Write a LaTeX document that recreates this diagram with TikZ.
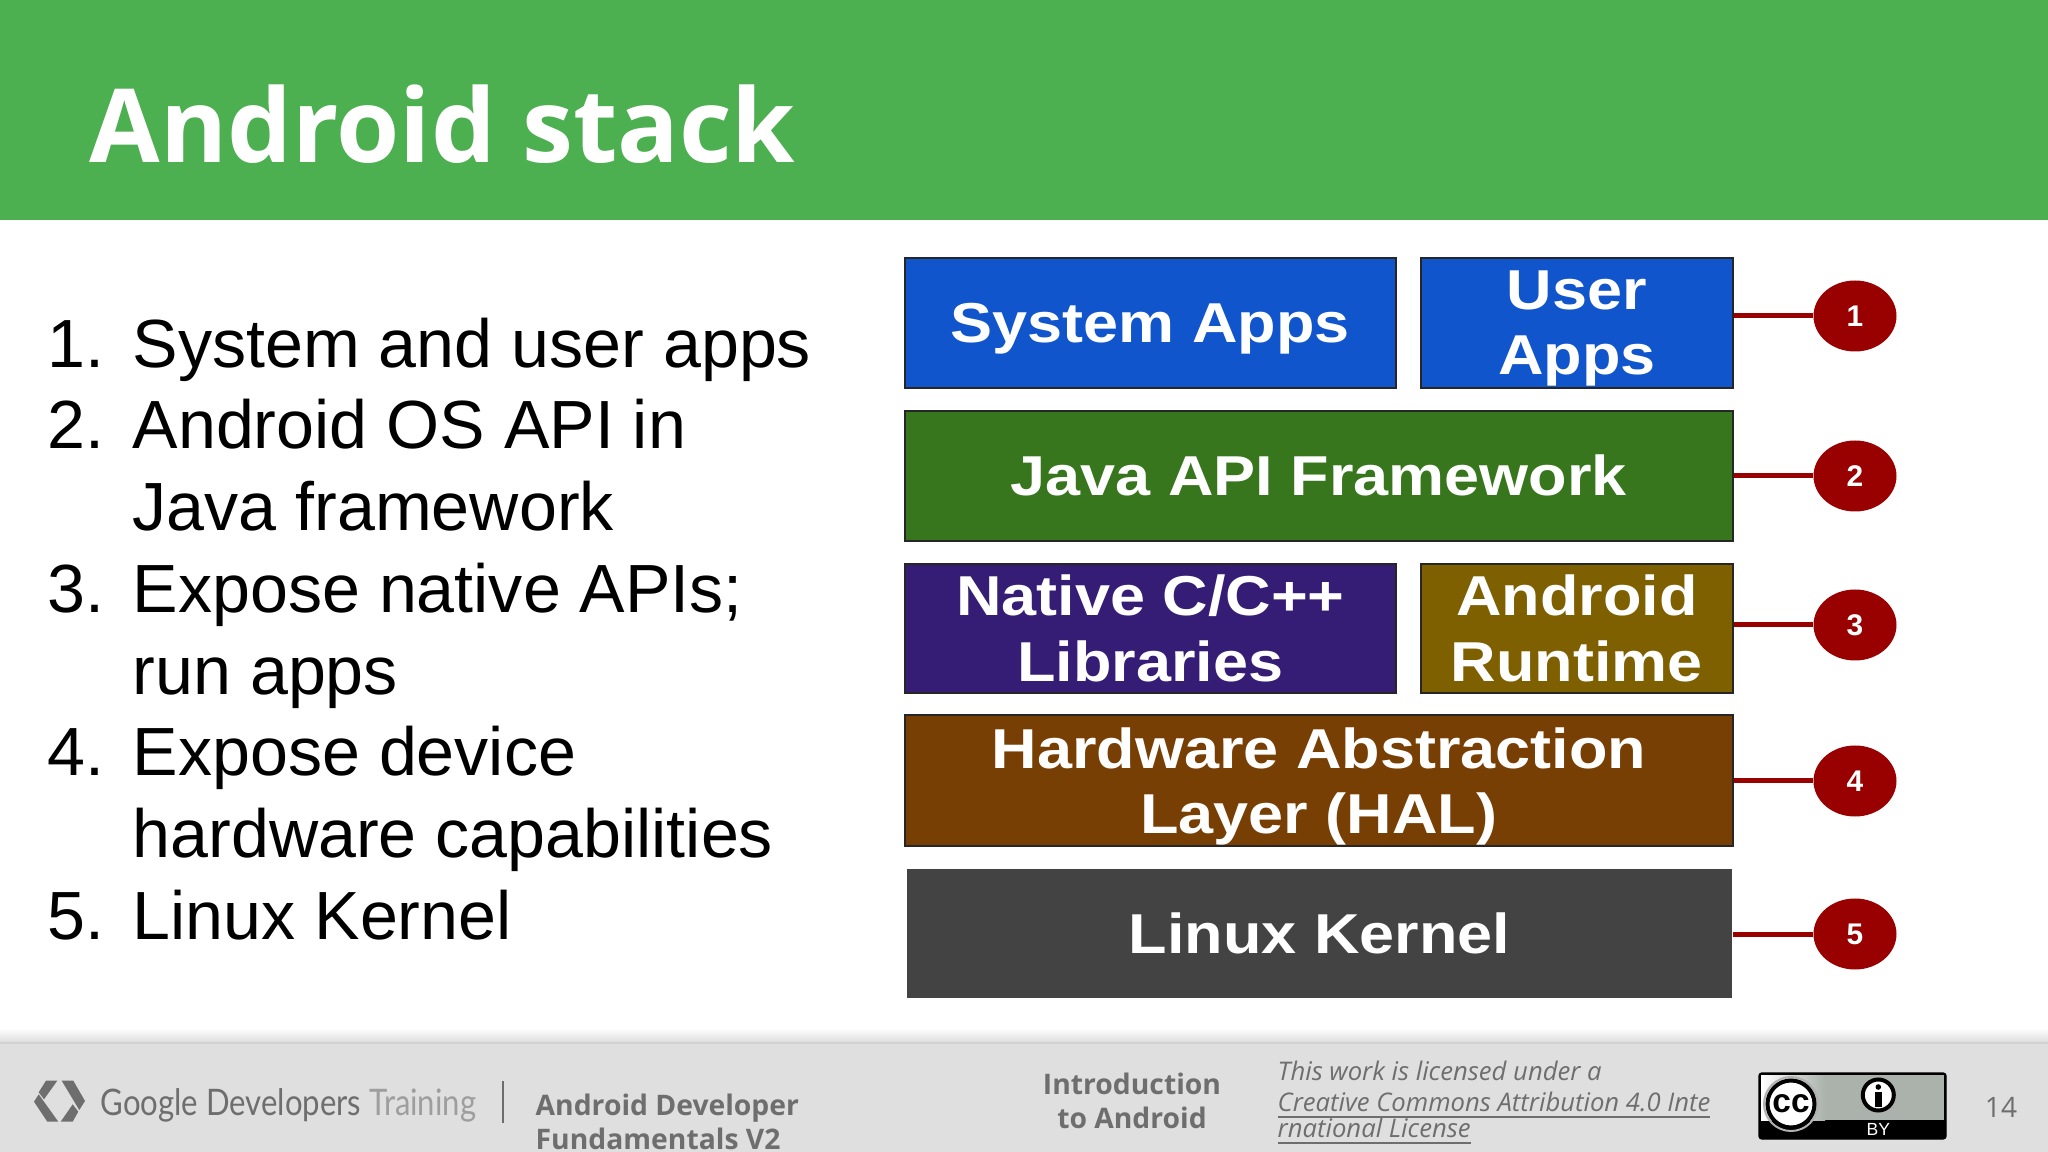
\documentclass[tikz,border=0pt]{standalone}
\usepackage{fontspec}
\setmainfont{Open Sans}
\newfontfamily\listfont{Liberation Sans}
\newfontfamily\boxfont[FakeStretch=1.12]{Liberation Sans}
\newfontfamily\logofont[FakeStretch=0.85]{Lato}
\usetikzlibrary{calc,shapes.geometric}
\definecolor{headgreen}{HTML}{4CAF50}
\definecolor{appblue}{HTML}{1155CC}
\definecolor{apigreen}{HTML}{38761D}
\definecolor{nativepurple}{HTML}{351C75}
\definecolor{runtimegold}{HTML}{7F6000}
\definecolor{halbrown}{HTML}{783F04}
\definecolor{kernelgray}{HTML}{434343}
\definecolor{markerred}{HTML}{990000}
\definecolor{footgray}{HTML}{DFDFDF}
\definecolor{foottext}{HTML}{6E6E6E}
\definecolor{badgegray}{HTML}{AAB2AB}
\tikzset{
	stackbox/.style={draw=black!85, line width=0.18mm, inner sep=0, anchor=north west, align=center, text=white, font=\boxfont\bfseries\fontsize{16}{18.6}\selectfont},
	marker/.style={ellipse, fill=markerred, minimum width=0.83cm, minimum height=0.71cm, inner sep=0, text=white, font=\listfont\bfseries\fontsize{8.5}{10}\selectfont},
	markerline/.style={draw=markerred, line width=0.5mm},
	foottitle/.style={text=foottext, font=\bfseries\fontsize{8.05}{9.7}\selectfont}
}
\begin{document}
\begin{tikzpicture}
	%%%%% START %%%%%
	\useasboundingbox (0, 0) rectangle (20.48, -11.52);
	
	\fill[headgreen] (0, 0) rectangle (20.48, -2.20);
	\node[anchor=west, inner sep=0, text=white, font=\bfseries\fontsize{29.1}{36}\selectfont] (title) at (0.89, -1.24) {Android stack};
	
	\node[anchor=west, inner sep=0, font=\listfont\fontsize{19.4}{23.26}\selectfont] (steps) at (0.47, -6.37) {%
		\begin{tabular}{@{}p{0.85cm}@{}l@{}}
			1. & System and user apps\\
			2. & Android OS API in\\
			   & Java framework\\
			3. & Expose native APIs;\\
			   & run apps\\
			4. & Expose device\\
			   & hardware capabilities\\
			5. & Linux Kernel
		\end{tabular}};
	
	\node[stackbox, fill=appblue, text depth=0pt, minimum width=4.91cm, minimum height=1.30cm] (sysapps) at (9.04, -2.57) {System Apps};
	\node[stackbox, fill=appblue, text depth=0pt, minimum width=3.12cm, minimum height=1.30cm] (userapps) at (14.20, -2.57) {User\\Apps};
	\node[stackbox, fill=apigreen, minimum width=8.28cm, minimum height=1.30cm] (javaapi) at (9.04, -4.10) {Java API Framework};
	\node[stackbox, fill=nativepurple, minimum width=4.91cm, minimum height=1.29cm] (native) at (9.04, -5.63) {Native C/C++\\Libraries};
	\node[stackbox, fill=runtimegold, minimum width=3.12cm, minimum height=1.29cm] (runtime) at (14.20, -5.63) {Android\\Runtime};
	\node[stackbox, fill=halbrown, text depth=0pt, minimum width=8.28cm, minimum height=1.31cm] (hal) at (9.04, -7.14) {Hardware Abstraction\\Layer (HAL)};
	\node[stackbox, draw=none, fill=kernelgray, minimum width=8.25cm, minimum height=1.29cm] (kernel) at (9.06, -8.68) {Linux Kernel};
	
	\node[marker] (num1) at (18.55, -3.16) {1};
	\node[marker] (num2) at (18.55, -4.76) {2};
	\node[marker] (num3) at (18.55, -6.25) {3};
	\node[marker] (num4) at (18.55, -7.81) {4};
	\node[marker] (num5) at (18.55, -9.34) {5};
	
	\draw[markerline] (num1 -| userapps.east) -- (num1);
	\draw[markerline] (num2 -| javaapi.east) -- (num2);
	\draw[markerline] (num3 -| runtime.east) -- (num3);
	\draw[markerline] (num4 -| hal.east) -- (num4);
	\draw[markerline] (num5 -| kernel.east) -- (num5);
	
	%%%%% footer %%%%%
	\shade[top color=white, bottom color=black!14] (0, -10.28) rectangle (20.48, -10.43);
	\fill[footgray] (0, -10.43) rectangle (20.48, -11.52);
	\draw[black!18, line width=0.25mm] (0, -10.43) -- (20.48, -10.43);
	
	\fill[foottext] (0.46, -10.807) -- (0.573, -10.807) -- (0.44, -10.993) -- (0.387, -10.923) -- cycle;
	\fill[foottext] (0.34, -11.017) -- (0.387, -10.943) -- (0.583, -11.217) -- (0.473, -11.217) -- cycle;
	\fill[foottext] (0.617, -10.807) -- (0.733, -10.807) -- (0.85, -11.01) -- (0.793, -11.10) -- cycle;
	\fill[foottext] (0.607, -11.217) -- (0.727, -11.043) -- (0.783, -11.117) -- (0.727, -11.217) -- cycle;
	\node[anchor=west, inner sep=0, text=foottext, font=\logofont\fontsize{10.4}{12}\selectfont] (brand) at (1.00, -11.05) {Google Developers \textcolor{black!38}{Training}};
	\draw[foottext, line width=0.2mm] (5.03, -10.81) -- (5.03, -11.23);
	
	\node[foottitle, anchor=north west, inner sep=0, align=left] (course) at (5.35, -10.935) {Android Developer\\Fundamentals V2};
	\node[foottitle, inner sep=0, align=center] (chapter) at (11.32, -11.005) {Introduction\\to Android};
	\node[anchor=north west, inner sep=0, align=left, text=foottext, font=\itshape\fontsize{7.3}{7.2}\selectfont] (license) at (12.77, -10.60) {This work is licensed under a\\[1.8pt]\underline{Creative Commons Attribution 4.0 Inte}\\[-1.2pt]\underline{rnational License}};
	
	\draw[fill=black, rounded corners=0.03cm] (17.59, -10.73) rectangle (19.46, -11.39);
	\fill[badgegray] (17.61, -10.75) rectangle (19.44, -11.20);
	\shade[left color=white, right color=badgegray] (17.61, -10.75) rectangle (18.25, -11.20);
	\draw[white!70!black, line width=0.2mm] (17.91, -11.04) circle (0.27);
	\draw[fill=white, line width=0.4mm] (17.91, -11.04) circle (0.235);
	\node[inner sep=0, font=\listfont\bfseries\fontsize{9.5}{10}\selectfont] (ccmark) at (17.91, -11.035) {cc};
	\draw[fill=white, line width=0.4mm] (18.783, -10.95) circle (0.155);
	\fill[black] (18.783, -10.87) circle (0.028);
	\fill[black] (18.745, -10.92) rectangle (18.82, -11.07);
	\node[inner sep=0, text=white, font=\listfont\fontsize{5}{6}\selectfont] (bytext) at (18.783, -11.29) {BY};
	
	\node[inner sep=0, text=foottext, font=\fontsize{8}{10}\selectfont] (pagenum) at (20.01, -11.07) {14};
	%%%%% END %%%%%
\end{tikzpicture}
\end{document}
